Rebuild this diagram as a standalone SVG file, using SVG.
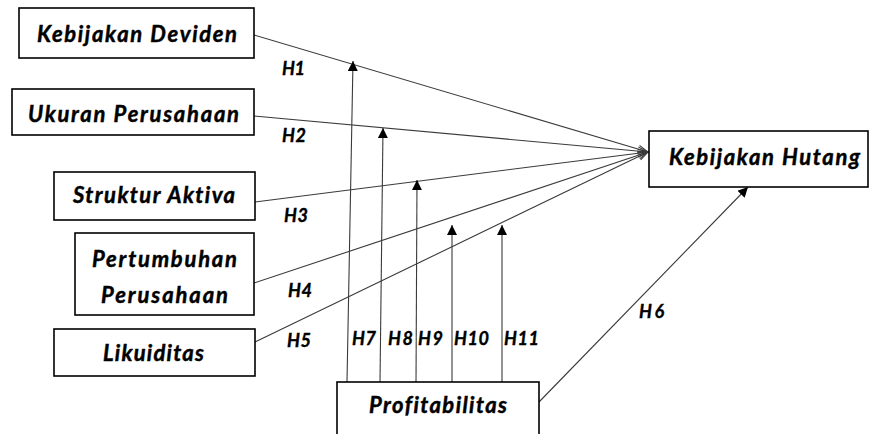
<svg xmlns="http://www.w3.org/2000/svg" width="873" height="434" viewBox="0 0 873 434">
  <defs>
    <style>
      .box { fill: #ffffff; stroke: #000000; stroke-width: 1.6; }
      .lbl { font-family: Lato, "Open Sans", "Liberation Sans", sans-serif; font-weight: bold; font-style: italic; font-size: 22px; fill: #000000; stroke: #000000; stroke-width: 0.45; text-anchor: middle; font-variant-ligatures: none; }
      .hyp { font-family: Lato, "Open Sans", "Liberation Sans", sans-serif; font-weight: bold; font-style: italic; font-size: 18px; fill: #000000; stroke: #000000; stroke-width: 0.35; }
      .edge { stroke: #3a3a3a; stroke-width: 1.1; fill: none; }
      .open { marker-end: url(#openHead); }
      .solid { marker-end: url(#solidHead); }
    </style>
    <marker id="openHead" markerUnits="userSpaceOnUse" markerWidth="14" markerHeight="12" refX="11" refY="5" orient="auto">
      <path d="M1,1 L11,5 L1,9" fill="none" stroke="#3a3a3a" stroke-width="1.1"/>
    </marker>
    <marker id="solidHead" markerUnits="userSpaceOnUse" markerWidth="12" markerHeight="12" refX="10" refY="5" orient="auto">
      <path d="M0,0 L10,5 L0,10 Z" fill="#000000"/>
    </marker>
  </defs>

  <!-- connectors -->
  <g id="connectors">
    <line class="edge open" x1="254" y1="35" x2="648" y2="152"/>
    <line class="edge open" x1="254" y1="116" x2="648" y2="152"/>
    <line class="edge open" x1="255" y1="202" x2="648" y2="152"/>
    <line class="edge open" x1="254" y1="283" x2="648" y2="152"/>
    <line class="edge open" x1="255" y1="342" x2="648" y2="152"/>
    <line class="edge solid" x1="539" y1="402" x2="748" y2="187"/>
    <line class="edge solid" x1="347" y1="382" x2="353" y2="61"/>
    <line class="edge solid" x1="380" y1="382" x2="383" y2="128"/>
    <line class="edge solid" x1="416" y1="384" x2="417" y2="180"/>
    <line class="edge solid" x1="452" y1="382" x2="452" y2="225" stroke="#000"/>
    <line class="edge solid" x1="502" y1="382" x2="502" y2="225" stroke="#000"/>
  </g>

  <!-- hypothesis labels -->
  <g id="hypotheses">
    <text class="hyp" x="282" y="75" textLength="23">H1</text>
    <text class="hyp" x="282" y="142" textLength="24">H2</text>
    <text class="hyp" x="284" y="222" textLength="24">H3</text>
    <text class="hyp" x="288" y="297" textLength="24">H4</text>
    <text class="hyp" x="287" y="347" textLength="24">H5</text>
    <text class="hyp" x="639" y="318" textLength="25">H6</text>
    <text class="hyp" x="352" y="345" textLength="24">H7</text>
    <text class="hyp" x="388" y="345" textLength="25">H8</text>
    <text class="hyp" x="418" y="345" textLength="25">H9</text>
    <text class="hyp" x="454" y="345" textLength="35">H10</text>
    <text class="hyp" x="504" y="345" textLength="35">H11</text>
  </g>

  <g id="kebijakan-deviden">
    <rect class="box" x="19" y="8" width="235" height="50"/>
    <text class="lbl" x="137" y="42" textLength="200">Kebijakan Deviden</text>
  </g>
  <g id="ukuran-perusahaan">
    <rect class="box" x="12" y="89" width="242" height="46"/>
    <text class="lbl" x="133.5" y="122" textLength="211">Ukuran Perusahaan</text>
  </g>
  <g id="struktur-aktiva">
    <rect class="box" x="54" y="172" width="201" height="48"/>
    <text class="lbl" x="154" y="203" textLength="162">Struktur Aktiva</text>
  </g>
  <g id="pertumbuhan-perusahaan">
    <rect class="box" x="75" y="233" width="179" height="82"/>
    <text class="lbl" x="164.5" y="267" textLength="145">Pertumbuhan</text>
    <text class="lbl" x="164.5" y="303" textLength="127">Perusahaan</text>
  </g>
  <g id="likuiditas">
    <rect class="box" x="54" y="329" width="201" height="47"/>
    <text class="lbl" x="153.5" y="361" textLength="101">Likuiditas</text>
  </g>
  <g id="profitabilitas">
    <rect class="box" x="337" y="382" width="202" height="70"/>
    <text class="lbl" x="438" y="413" textLength="138">Profitabilitas</text>
  </g>
  <g id="kebijakan-hutang">
    <rect class="box" x="649" y="131" width="219" height="56"/>
    <text class="lbl" x="764.5" y="165" textLength="191">Kebijakan Hutang</text>
  </g>
</svg>
